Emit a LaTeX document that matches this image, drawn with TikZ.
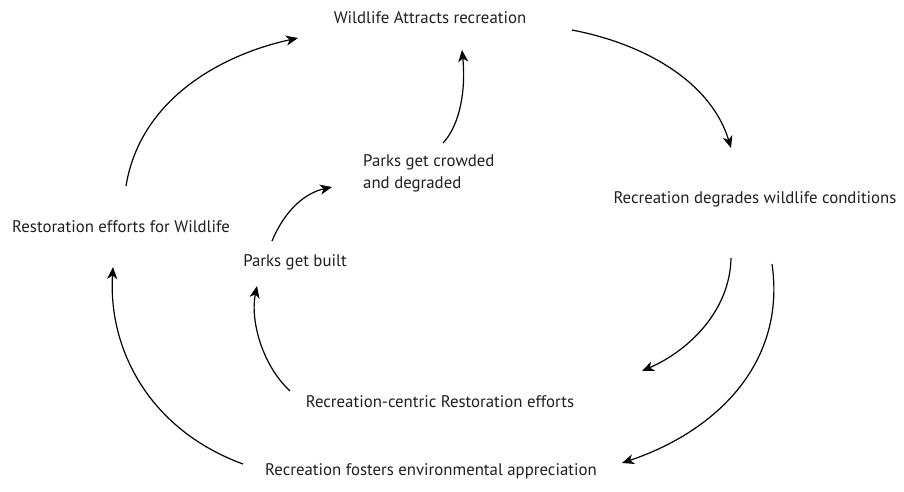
\documentclass[tikz,border=0pt]{standalone}
\usepackage{fontspec}
\setmainfont{PT Sans}
\usetikzlibrary{arrows.meta}
\begin{document}
\begin{tikzpicture}[x=1pt,y=-1pt,
  lbl/.style={inner sep=0pt,font=\fontsize{16.8}{22}\selectfont,text=black!88},
  arr/.style={line width=1.2pt,-{Stealth[length=12pt,width=10pt,inset=3.5pt]}}]
\useasboundingbox (0,0) rectangle (904,491);
\node[lbl] (wa) at (430,18) {Wildlife Attracts recreation};
\node[lbl] (rd) at (755,199) {Recreation degrades wildlife conditions};
\node[lbl,align=left,anchor=west] (pc) at (363,173) {Parks get crowded\\and degraded};
\node[lbl] (rw) at (121,227) {Restoration efforts for Wildlife};
\node[lbl] (pb) at (295,262) {Parks get built};
\node[lbl] (rc) at (440,402) {Recreation-centric Restoration efforts};
\node[lbl] (rf) at (431,471) {Recreation fosters environmental appreciation};
\draw[arr] ([shift={(5,-41)}]rw.center) .. controls (140,100) and (220,55) .. ([shift={(-132,20)}]wa.center);
\draw[arr] ([shift={(80,-30)}]pc.west) .. controls (460,125) and (466,90) .. ([shift={(32,32)}]wa.center);
\draw[arr] ([shift={(142,12)}]wa.center) .. controls (650,45) and (712,85) .. ([shift={(-24,-51)}]rd.center);
\draw[arr] ([shift={(-23,-21)}]pb.center) .. controls (285,210) and (305,193) .. ([shift={(-31,14)}]pc.west);
\draw[arr] ([shift={(-150,-11)}]rc.center) .. controls (262,365) and (250,320) .. ([shift={(-38,24)}]pb.center);
\draw[arr] ([shift={(-188,-7)}]rf.center) .. controls (150,430) and (108,350) .. ([shift={(-8,40)}]rw.center);
\draw[arr] ([shift={(-24,59)}]rd.center) .. controls (730,310) and (690,350) .. ([shift={(202,-31)}]rc.center);
\draw[arr] ([shift={(17,65)}]rd.center) .. controls (786,360) and (720,430) .. ([shift={(191,-8)}]rf.center);
\end{tikzpicture}
\end{document}
